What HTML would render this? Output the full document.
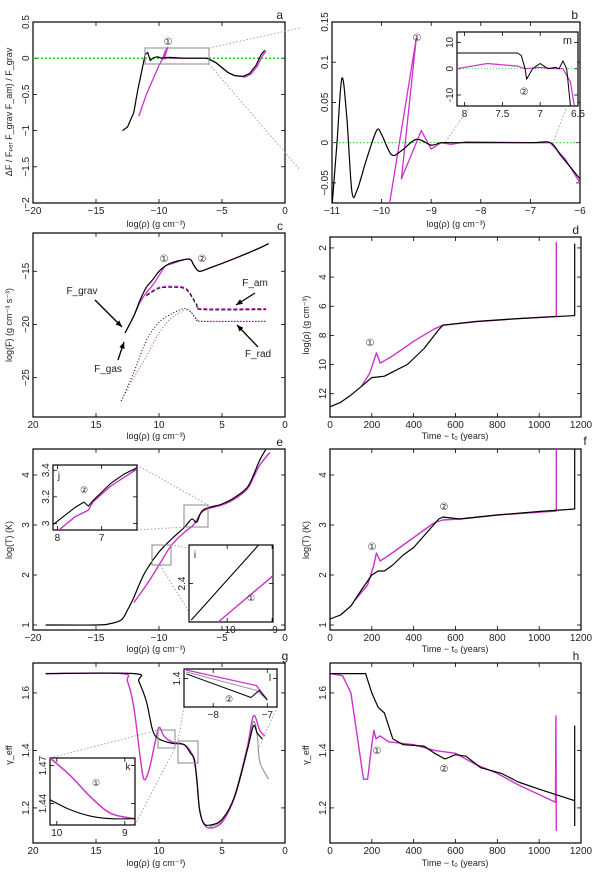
<!DOCTYPE html>
<html><head><meta charset="utf-8">
<style>
html,body{margin:0;padding:0;background:#fff;}
svg{display:block;font-family:"Liberation Sans",sans-serif;}
text{fill:#222;}
</style></head>
<body>
<svg id="fig" width="600" height="879" viewBox="0 0 600 879" xmlns="http://www.w3.org/2000/svg"></svg>
<script>
// ---------- data ----------
const aBlackX=[-12.9,-12.5,-12,-11.7,-11.4,-11.1,-10.9,-10.7,-10.4,-10.1,-9.8,-9.5,-9,-8,-7,-6.2,-5.5,-5,-4.5,-4,-3.3,-2.8,-2.3,-1.9,-1.6];
const aBlackY=[-1,-0.95,-0.75,-0.45,-0.2,0.05,0.08,-0.03,0.01,0.02,0,0.01,0.01,0,0,0,-0.06,-0.13,-0.2,-0.24,-0.25,-0.21,-0.1,0.05,0.11];
const aMagX=[-11.6,-11,-10.5,-10,-9.7,-9.5,-9.3,-9.6,-9.2,-9,-8,-7,-6.2,-5.5,-5,-4.5,-4,-3.2,-2.7,-2.2,-1.8,-1.5];
const aMagY=[-0.8,-0.5,-0.3,-0.1,0,0.1,0.15,-0.01,0.01,0,0,0,0,-0.06,-0.13,-0.2,-0.24,-0.26,-0.22,-0.11,0.03,0.1];
const bBlackX=[-11,-10.9,-10.8,-10.7,-10.6,-10.5,-10.3,-10.1,-10,-9.8,-9.6,-9.3,-9,-8.8,-8.5,-7,-6.6,-6.4,-6.2,-6];
const bBlackY=[-0.08,0,0.08,0.03,-0.06,-0.06,-0.02,0.015,0.01,-0.015,-0.01,0.004,-0.003,0,0,0,0,-0.015,-0.03,-0.045];
const bMagX=[-9.85,-9.3,-9.6,-9.2,-9,-8.8,-8.6,-8.3,-7,-6.6,-6.3,-6];
const bMagY=[-0.08,0.13,-0.045,0.015,-0.008,0,-0.002,0.001,0,0,-0.02,-0.05];
const mBlackX=[-8.1,-7.3,-7.25,-7.2,-7.18,-7.1,-7,-6.9,-6.8,-6.75,-6.7,-6.65,-6.6];
const mBlackY=[6,6,5,0,-4,0,2,0,0.5,0,3,0,-14];
const mMagX=[-8.1,-7.7,-7.3,-7.2,-7,-6.8,-6.7,-6.6,-6.55];
const mMagY=[0,2,1,0,0.5,0,0,-5,-14];
const cGravX=[12.7,12,11.5,11,10.5,10,9.5,9,8,7.5,7.2,6.8,6,4,2,1.3];
const cGravY=[-20.8,-19.2,-17.7,-16.5,-15.8,-15,-14.5,-14.2,-13.9,-13.9,-14.5,-15,-14.7,-13.8,-12.8,-12.4];
const cGravMagY=[-20.8,-19.2,-17.9,-17.0,-16.3,-15.4,-14.5,-14.3,-13.9,-13.9,-14.5,-15,-14.7,-13.8,-12.8,-12.4];
const cConvX=[11,10,9,8,7.5,7,6.5,1.5];
const cConvY=[-17.3,-16.6,-16.5,-16.6,-17.2,-18.2,-18.6,-18.6];
const cRadX=[13,12,11,10,9,8,7.5,7,6.5,1.5];
const cRadY=[-27.2,-24.5,-21.5,-19.8,-19,-18.5,-18.8,-19.5,-19.7,-19.7];
const cRadMagY=[-27.2,-25,-23,-20.8,-19.4,-18.7,-18.8,-19.5,-19.7,-19.7];
const dBlackX=[0,50,100,150,200,260,300,370,450,520,540,700,900,1160,1170,1170];
const dBlackY=[-12.9,-12.6,-12.1,-11.5,-10.9,-10.8,-10.5,-10,-8.9,-7.6,-7.3,-7.05,-6.85,-6.65,-6.65,-1.7];
const dMagX=[150,190,222,240,300,400,500,540,700,900,1082,1082];
const dMagY=[-11.5,-10.6,-9.2,-9.9,-9.4,-8.4,-7.55,-7.3,-7.05,-6.85,-6.7,-1.6];
const eBlackX=[-19,-15,-14,-13,-12.5,-12,-11.5,-11,-10,-9,-8,-7.4,-7,-6.5,-5,-4,-3,-2.5,-2,-1.5];
const eBlackY=[1,1,1.02,1.1,1.3,1.55,1.85,2.1,2.46,2.72,2.95,3.12,3.06,3.3,3.42,3.55,3.75,4.0,4.3,4.52];
const eMagX=[-12,-11,-10,-9,-8,-7.2,-6.5,-5,-4,-3,-2.5,-2,-1.2];
const eMagY=[1.45,1.8,2.2,2.6,2.85,3.02,3.28,3.4,3.52,3.72,3.95,4.2,4.45];
const jBlackX=[-8.1,-7.6,-7.4,-7.3,-7.2,-6.8,-6.5,-6.2];
const jBlackY=[2.99,3.12,3.16,3.13,3.17,3.3,3.37,3.42];
const jMagX=[-8,-7.6,-7.3,-7.2,-6.8,-6.2];
const jMagY=[2.94,3.05,3.1,3.16,3.28,3.41];
const iBlackX=[-10.8,-9.3];
const iBlackY=[2.21,2.6];
const iMagX=[-10.2,-8.98];
const iMagY=[2.2,2.44];
const fBlackX=[0,50,100,150,200,230,260,300,350,400,520,540,620,800,1000,1170,1170];
const fBlackY=[1.12,1.2,1.38,1.7,2.0,2.08,2.08,2.2,2.4,2.55,3.12,3.16,3.12,3.2,3.27,3.32,4.52];
const fMagX=[120,180,210,222,240,300,400,500,540,620,800,1082,1082];
const fMagY=[1.5,1.8,2.2,2.44,2.28,2.45,2.75,3.05,3.1,3.12,3.2,3.28,4.52];
const gBlackX=[19,12,11.6,11,10.5,10,9,8,7.5,7.2,7,6.8,6.5,6,5,4,3,2.5,2.2,1.8];
const gBlackY=[1.667,1.667,1.64,1.57,1.47,1.44,1.425,1.42,1.39,1.37,1.3,1.2,1.15,1.14,1.16,1.24,1.4,1.485,1.46,1.44];
const gMagX=[19,13,12.5,12,11.5,11.2,10.8,10.3,10,9.6,9,8,7.3,7,6.8,6.5,6,5,4,3,2.5,2,1.6];
const gMagY=[1.667,1.667,1.64,1.55,1.38,1.3,1.33,1.43,1.48,1.45,1.43,1.42,1.38,1.3,1.2,1.15,1.13,1.15,1.24,1.41,1.52,1.47,1.45];
const gGrayX=[6,5,4,3,2.5,2.2,2,1.3];
const gGrayY=[1.135,1.155,1.235,1.4,1.5,1.45,1.36,1.3];
const kBlackX=[10.1,9.8,9.5,9.2,8.85];
const kBlackY=[1.443,1.435,1.43,1.428,1.428];
const kMagX=[10.1,9.8,9.5,9.2,8.85];
const kMagY=[1.476,1.462,1.445,1.432,1.428];
const lBlackX=[-8.5,-7.3,-7.15,-7];
const lBlackY=[1.41,1.36,1.375,1.355];
const lMagX=[-8.5,-7.2,-7];
const lMagY=[1.418,1.385,1.355];
const lGrayX=[-8.5,-7.2,-7];
const lGrayY=[1.414,1.375,1.355];
const hBlackX=[0,170,200,230,260,300,350,450,500,550,600,650,720,820,900,1000,1170,1170,1170];
const hBlackY=[1.667,1.667,1.6,1.55,1.53,1.44,1.42,1.415,1.39,1.37,1.385,1.38,1.34,1.32,1.29,1.265,1.225,1.485,1.137];
const hMagX=[0,60,100,130,160,180,200,210,220,240,280,400,500,600,700,800,900,1078,1080,1082];
const hMagY=[1.667,1.66,1.6,1.45,1.3,1.3,1.42,1.47,1.44,1.45,1.43,1.42,1.4,1.39,1.35,1.32,1.28,1.22,1.52,1.12];

// ---------- helpers ----------
const NS="http://www.w3.org/2000/svg";
const svg=document.getElementById('fig');
function mk(tag,attrs,parent){const e=document.createElementNS(NS,tag);for(const k in attrs)e.setAttribute(k,attrs[k]);(parent||svg).appendChild(e);return e;}
function lin(d0,d1,r0,r1){return v=>r0+(v-d0)/(d1-d0)*(r1-r0);}
function panel(name,box,xd,yd,xt,yt,xl,yl,letter){
  const g=mk('g',{});
  
  
  const sx=lin(xd[0],xd[1],box[0],box[2]);const sy=lin(yd[0],yd[1],box[3],box[1]);
  const fr=mk('rect',{x:box[0],y:box[1],width:box[2]-box[0],height:box[3]-box[1],fill:'#fff',stroke:'#000','stroke-width':1.2},g);
  
  
  xt.forEach(t=>{const x=sx(t);
    mk('line',{x1:x,x2:x,y1:box[3],y2:box[3]-4,stroke:'#000','stroke-width':0.8},g);
    mk('line',{x1:x,x2:x,y1:box[1],y2:box[1]+4,stroke:'#000','stroke-width':0.8},g);
    const tx=mk('text',{x:x,y:box[3]+11,'font-size':10,'text-anchor':'middle'},g);tx.textContent=xl(t);
    
    
  });
  yt.forEach(t=>{const y=sy(t);
    mk('line',{x1:box[0],x2:box[0]+4,y1:y,y2:y,stroke:'#000','stroke-width':0.8},g);
    mk('line',{x1:box[2],x2:box[2]-4,y1:y,y2:y,stroke:'#000','stroke-width':0.8},g);
    const tx=mk('text',{x:box[0]-4,y:y,'font-size':10,'text-anchor':'middle',transform:`rotate(-90 ${box[0]-4} ${y})`},g);tx.textContent=yl(t);
    
    
  });
  if(letter){const lt=mk('text',{x:box[2]-2,y:box[1]-3,'font-size':12,'text-anchor':'end'},g);lt.textContent=letter;
    
    }
  return {g,sx,sy,box};
}
function clipFor(p,id){const cp=mk('clipPath',{id:id});mk('rect',{x:p.box[0],y:p.box[1],width:p.box[2]-p.box[0],height:p.box[3]-p.box[1]},cp);return `url(#${id})`;}
let cid=0;
function series(p,xs,ys,color,w,dash,name,smooth){
  const P=xs.map((x,i)=>[p.sx(x),p.sy(ys[i])]);
  let d='M'+P[0][0].toFixed(1)+','+P[0][1].toFixed(1);
  for(let i=1;i<P.length;i++){
    if(smooth){
      const p0=P[Math.max(0,i-2)],p1=P[i-1],p2=P[i],p3=P[Math.min(P.length-1,i+1)];
      const c1=[p1[0]+(p2[0]-p0[0])/6,p1[1]+(p2[1]-p0[1])/6],c2=[p2[0]-(p3[0]-p1[0])/6,p2[1]-(p3[1]-p1[1])/6];
      d+=` C${c1[0].toFixed(1)},${c1[1].toFixed(1)} ${c2[0].toFixed(1)},${c2[1].toFixed(1)} ${p2[0].toFixed(1)},${p2[1].toFixed(1)}`;
    } else d+=' L'+P[i][0].toFixed(1)+','+P[i][1].toFixed(1);
  }
  const a={d:d,fill:'none',stroke:color,'stroke-width':w,'clip-path':clipFor(p,'c'+(cid++)),'stroke-linejoin':'round'};
  if(dash)a['stroke-dasharray']=dash;
  const e=mk('path',a,p.g);
  
  
  return e;
}
function txt(x,y,s,size,name,rot,anchor){const a={x:x,y:y,'font-size':size||10,'text-anchor':anchor||'middle'};if(rot)a.transform=`rotate(-90 ${x} ${y})`;const t=mk('text',a);t.textContent=s;
  
  return t;}
function dot(x1,y1,x2,y2){const l=mk('line',{x1,y1,x2,y2,stroke:'#999','stroke-width':0.9,'stroke-dasharray':'1.5,2'});
  
  }
function grayBox(x,y,w,h,name){const r=mk('rect',{x,y,width:w,height:h,fill:'none',stroke:'#888','stroke-width':1});
  
  }
function arrow(x1,y1,x2,y2){const l=mk('line',{x1,y1,x2,y2,stroke:'#000','stroke-width':1.3});
  
  
  const a=Math.atan2(y2-y1,x2-x1),s=7;
  const p=mk('polygon',{points:`${x2},${y2} ${x2-s*Math.cos(a-0.4)},${y2-s*Math.sin(a-0.4)} ${x2-s*Math.cos(a+0.4)},${y2-s*Math.sin(a+0.4)}`,fill:'#000'});
  
  }
const MAG='#cc33cc',GRN='#22cc22';
const neg=t=>t<0?'−'+Math.abs(t):String(t);
const fmt=t=>String(t);
const L=[33,285],R=[330,581];

// ---------- a ----------
const pa=panel('panel-a',[L[0],22,L[1],203],[-20,0],[-2,0.5],[-20,-15,-10,-5,0],[-2,-1.5,-1,-0.5,0,0.5],neg,neg,'a');
mk('line',{x1:L[0],x2:L[1],y1:pa.sy(0),y2:pa.sy(0),stroke:GRN,'stroke-width':1.5,'stroke-dasharray':'2,2'},pa.g);
series(pa,aMagX,aMagY,MAG,1.3,null,'series-a-magenta');
series(pa,aBlackX,aBlackY,'#000',1.2,null,'series-a-black');
txt(168,45,'①',10,'marker-1');
grayBox(145,48,64,16,'zoom-box-a');
dot(209,48,300,28);dot(209,64,300,170);
txt(156,227,'log(ρ) (g cm⁻³)',9,'x-axis-title-a');
txt(12,112,'ΔF / Fₚₑᵣ   F_grav   F_am) / F_grav',9,'y-axis-title-a',true);

// ---------- b ----------
const pb=panel('panel-b',[332,22,580,203],[-11,-6],[-0.075,0.15],[-11,-10,-9,-8,-7,-6],[-0.05,0,0.05,0.1,0.15],neg,neg,'b');
mk('line',{x1:332,x2:580,y1:pb.sy(0),y2:pb.sy(0),stroke:GRN,'stroke-width':1,'stroke-dasharray':'1.5,2'},pb.g);
series(pb,bMagX,bMagY,MAG,1.3,null,'series-b-magenta');
series(pb,bBlackX,bBlackY,'#000',1.2,null,'series-b-black',true);
txt(417,41,'①',10,'marker-1-b');
txt(456,227,'log(ρ) (g cm⁻³)',9,'x-axis-title-b');
const pm=panel('inset-m',[457,32,578,106],[-8.1,-6.5],[-14.2,14],[-8,-7.5,-7,-6.5],[-10,0,10],t=>String(-t).replace('-','−'),fmt,null);
mk('line',{x1:457,x2:578,y1:pm.sy(0),y2:pm.sy(0),stroke:GRN,'stroke-width':0.8,'stroke-dasharray':'1,2'},pm.g);
series(pm,mMagX,mMagY,MAG,1.2,null,'series-m-magenta');
series(pm,mBlackX,mBlackY,'#000',1,null,'series-m-black');
txt(572,44,'m',11,'inset-label-m',false,'end');
txt(524,95,'②',10,'marker-2-m');
dot(470,106,445,143);dot(567,106,553,143);

// ---------- c ----------
const pc=panel('panel-c',[L[0],233,L[1],417],[20,0],[-28.7,-11.4],[20,15,10,5,0],[-25,-20,-15],fmt,neg,'c');
series(pc,cRadX,cRadMagY,MAG,1,'1,2','series-c-frad-magenta',true);
series(pc,cConvX,cConvY.map(v=>v+0.1),MAG,1,'4,2','series-c-fconv-magenta',true);
series(pc,cGravX,cGravMagY,MAG,1.3,null,'series-c-fgrav-magenta',true);
series(pc,cRadX,cRadY,'#000',1,'1,2','series-c-frad-black',true);
series(pc,cConvX,cConvY,'#000',1,'4,2','series-c-fconv-black',true);
series(pc,cGravX,cGravY,'#000',1.2,null,'series-c-fgrav-black',true);
txt(164,262,'①',10,'marker-1-c');txt(202,262,'②',10,'marker-2-c');
txt(82,294,'F_grav',10,'label-fgrav');arrow(95,300,122,327);
txt(108,372,'F_gas',10,'label-fgas');arrow(118,360,124,342);
txt(255,286,'F_am',10,'label-fam');arrow(255,293,236,305);
txt(258,357,'F_rad',10,'label-frad');arrow(258,347,237,325);
txt(156,439,'log(ρ) (g cm⁻³)',9,'x-axis-title-c');
txt(12,325,'log(F) (g cm⁻³ s⁻³)',9,'y-axis-title-c',true);

// ---------- d ----------
const pd=panel('panel-d',[R[0],237,R[1],417],[0,1200],[-13.6,-1.25],[0,200,400,600,800,1000,1200],[-12,-10,-8,-6,-4,-2],fmt,t=>String(-t),'d');
series(pd,dMagX,dMagY,MAG,1.4,null,'series-d-magenta');
series(pd,dBlackX,dBlackY,'#000',1.2,null,'series-d-black');
txt(370,346,'①',10,'marker-1-d');
txt(455,439,'Time − t₀ (years)',9,'x-axis-title-d');
txt(309,325,'log(ρ) (g cm⁻³)',9,'y-axis-title-d',true);

// ---------- e ----------
const pe=panel('panel-e',[L[0],449,L[1],630],[-20,0],[0.9,4.52],[-20,-15,-10,-5,0],[1,2,3,4],neg,fmt,'e');
series(pe,eMagX,eMagY,MAG,1.4,null,'series-e-magenta',true);
series(pe,eBlackX,eBlackY,'#000',1.2,null,'series-e-black',true);
grayBox(184,505,24,22,'zoom-box-j');grayBox(152,545,19,20,'zoom-box-i');
dot(137,465,208,505);dot(137,530,184,527);dot(171,545,189,548);dot(160,565,189,612);
const pj=panel('inset-j',[53,465,137,530],[-8.1,-6.2],[2.95,3.44],[-8,-7],[3,3.2,3.4],t=>String(-t),fmt,null);
series(pj,jMagX,jMagY,MAG,1.4,null,'series-j-magenta');
series(pj,jBlackX,jBlackY,'#000',1.1,null,'series-j-black');
txt(59,479,'j',10,'inset-label-j');txt(84,493,'②',9,'marker-2-j');
const pi=panel('inset-i',[189,545,273,622],[-10.85,-8.98],[2.2,2.6],[-10,-9],[2.4],neg,fmt,null);
series(pi,iMagX,iMagY,MAG,1.4,null,'series-i-magenta');
series(pi,iBlackX,iBlackY,'#000',1.1,null,'series-i-black');
txt(195,558,'i',10,'inset-label-i');txt(251,601,'①',9,'marker-1-i');
txt(156,652,'log(ρ) (g cm⁻³)',9,'x-axis-title-e');
txt(12,540,'log(T) (K)',9,'y-axis-title-e',true);

// ---------- f ----------
const pf=panel('panel-f',[R[0],449,R[1],630],[0,1200],[0.9,4.52],[0,200,400,600,800,1000,1200],[1,2,3,4],fmt,fmt,'');
series(pf,fMagX,fMagY,MAG,1.4,null,'series-f-magenta');
series(pf,fBlackX,fBlackY,'#000',1.2,null,'series-f-black');
txt(372,550,'①',10,'marker-1-f');txt(444,510,'②',10,'marker-2-f');
txt(585,445,'f',12,'panel-letter-f');
txt(455,652,'Time − t₀ (years)',9,'x-axis-title-f');
txt(309,540,'log(T) (K)',9,'y-axis-title-f',true);
txt(576,660,'h',12,'panel-letter-h');
txt(285,660,'g',12,'panel-letter-g');

// ---------- g ----------
const pg=panel('panel-g',[L[0],663,L[1],843],[20,0],[1.078,1.704],[20,15,10,5,0],[1.2,1.4,1.6],fmt,fmt,null);
series(pg,gGrayX,gGrayY,'#999',1.2,null,'series-g-gray',true);
series(pg,gMagX,gMagY,MAG,1.4,null,'series-g-magenta',true);
series(pg,gBlackX,gBlackY,'#000',1.2,null,'series-g-black',true);
grayBox(158,730,17,18,'zoom-box-k');grayBox(178,741,20,22,'zoom-box-l');
dot(50,758,158,730);dot(135,825,175,748);dot(184,707,178,741);dot(277,707,258,750);
const pk=panel('inset-k',[50,758,135,825],[10.1,8.85],[1.423,1.476],[10,9],[1.44,1.47],fmt,fmt,null);
series(pk,kMagX,kMagY,MAG,1.5,null,'series-k-magenta',true);
series(pk,kBlackX,kBlackY,'#000',1.1,null,'series-k-black',true);
txt(128,770,'k',10,'inset-label-k');txt(96,786,'①',9,'marker-1-k');
const pl=panel('inset-l',[184,669,277,707],[-8.54,-6.82],[1.34,1.42],[-8,-7],[1.4],neg,fmt,null);
series(pl,lGrayX,lGrayY,'#999',1,null,'series-l-gray');
series(pl,lMagX,lMagY,MAG,1.3,null,'series-l-magenta');
series(pl,lBlackX,lBlackY,'#000',1,null,'series-l-black');
txt(270,681,'l',10,'inset-label-l');txt(229,702,'②',9,'marker-2-l');
txt(156,866,'log(ρ) (g cm⁻³)',9,'x-axis-title-g');
txt(12,755,'γ_eff',9,'y-axis-title-g',true);

// ---------- h ----------
const ph=panel('panel-h',[R[0],663,R[1],843],[0,1200],[1.078,1.704],[0,200,400,600,800,1000,1200],[1.2,1.4,1.6],fmt,fmt,null);
series(ph,hMagX,hMagY,MAG,1.4,null,'series-h-magenta');
series(ph,hBlackX,hBlackY,'#000',1.2,null,'series-h-black');
txt(377,754,'①',10,'marker-1-h');txt(444,772,'②',10,'marker-2-h');
txt(455,866,'Time − t₀ (years)',9,'x-axis-title-h');
txt(309,755,'γ_eff',9,'y-axis-title-h',true);
</script>
</body></html>
